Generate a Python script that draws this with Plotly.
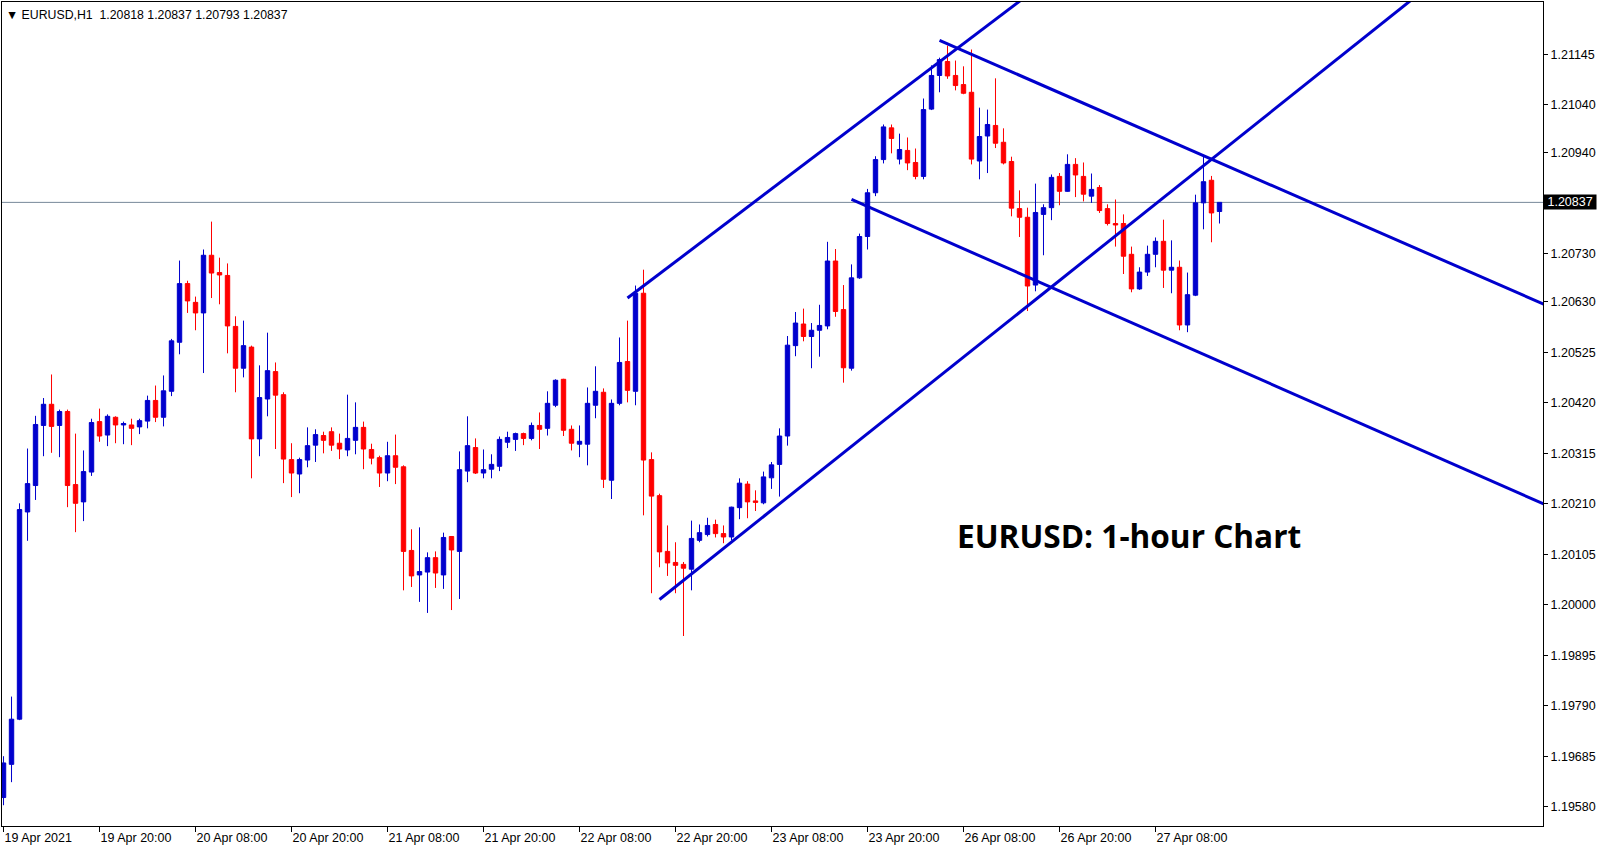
import plotly.graph_objects as go

# ---------------- data (EURUSD H1) ----------------
bar_index = list(range(153))
open_ = [1.19599,1.19668,1.19762,1.20193,1.20248,1.20373,1.20417,1.20373,1.20402,1.20250,
         1.20214,1.20276,1.20381,1.20353,1.20390,1.20374,1.20374,1.20370,1.20382,1.20425,
         1.20390,1.20444,1.20546,1.20668,1.20629,1.20607,1.20727,1.20691,1.20685,1.20579,
         1.20492,1.20536,1.20345,1.20428,1.20485,1.20437,1.20302,1.20272,1.20301,1.20332,
         1.20352,1.20360,1.20336,1.20322,1.20342,1.20369,1.20323,1.20306,1.20274,1.20310,
         1.20287,1.20113,1.20062,1.20068,1.20098,1.20062,1.20142,1.20111,1.20278,1.20327,
         1.20274,1.20282,1.20288,1.20338,1.20344,1.20356,1.20346,1.20373,1.20367,1.20415,
         1.20469,1.20365,1.20334,1.20334,1.20415,1.20442,1.20259,1.20419,1.20506,1.20444,
         1.20648,1.20302,1.20227,1.20111,1.20088,1.20084,1.20074,1.20134,1.20146,1.20167,
         1.20148,1.20141,1.20202,1.20251,1.20216,1.20212,1.20264,1.20292,1.20351,1.20539,
         1.20584,1.20558,1.20571,1.20580,1.20715,1.20614,1.20492,1.20680,1.20766,1.20857,
         1.20926,1.20992,1.20927,1.20945,1.20920,1.20891,1.21031,1.21101,1.21130,1.21101,
         1.21082,1.21066,1.20923,1.20975,1.20997,1.20962,1.20922,1.20824,1.20806,1.20665,
         1.20812,1.20826,1.20891,1.20860,1.20916,1.20891,1.20850,1.20868,1.20824,1.20793,
         1.20793,1.20729,1.20657,1.20692,1.20729,1.20756,1.20696,1.20702,1.20582,1.20644,
         1.20836,1.20883,1.20818]
high = [1.19685,1.19809,1.20211,1.20325,1.20393,1.20430,1.20479,1.20406,1.20406,1.20356,
        1.20321,1.20387,1.20408,1.20396,1.20392,1.20381,1.20387,1.20387,1.20435,1.20456,
        1.20477,1.20553,1.20716,1.20674,1.20641,1.20739,1.20797,1.20722,1.20710,1.20600,
        1.20591,1.20539,1.20498,1.20566,1.20504,1.20442,1.20336,1.20306,1.20369,1.20365,
        1.20360,1.20369,1.20356,1.20437,1.20421,1.20381,1.20335,1.20310,1.20339,1.20354,
        1.20290,1.20157,1.20161,1.20109,1.20111,1.20150,1.20142,1.20319,1.20392,1.20346,
        1.20323,1.20313,1.20350,1.20360,1.20358,1.20358,1.20379,1.20400,1.20444,1.20469,
        1.20470,1.20373,1.20373,1.20452,1.20496,1.20450,1.20427,1.20556,1.20591,1.20664,
        1.20697,1.20317,1.20231,1.20165,1.20130,1.20089,1.20175,1.20167,1.20181,1.20177,
        1.20165,1.20204,1.20263,1.20257,1.20238,1.20277,1.20297,1.20367,1.20559,1.20609,
        1.20616,1.20586,1.20624,1.20755,1.20740,1.20665,1.20708,1.20772,1.20865,1.20933,
        1.20999,1.20999,1.20980,1.20972,1.20949,1.21053,1.21122,1.21138,1.21163,1.21132,
        1.21120,1.21155,1.21034,1.21030,1.21095,1.20991,1.20932,1.20862,1.20826,1.20876,
        1.20833,1.20895,1.20898,1.20937,1.20929,1.20920,1.20897,1.20873,1.20833,1.20843,
        1.20812,1.20745,1.20702,1.20747,1.20764,1.20801,1.20758,1.20716,1.20691,1.20853,
        1.20934,1.20892,1.20837]
low = [1.19583,1.19631,1.19760,1.20133,1.20218,1.20309,1.20316,1.20307,1.20203,1.20151,
       1.20174,1.20268,1.20339,1.20330,1.20336,1.20334,1.20332,1.20355,1.20367,1.20380,
       1.20371,1.20434,1.20521,1.20607,1.20571,1.20482,1.20638,1.20625,1.20523,1.20442,
       1.20473,1.20263,1.20309,1.20392,1.20324,1.20253,1.20224,1.20232,1.20286,1.20297,
       1.20315,1.20320,1.20303,1.20309,1.20313,1.20282,1.20292,1.20245,1.20257,1.20251,
       1.20030,1.20037,1.20006,1.19983,1.20035,1.20033,1.19989,1.20012,1.20255,1.20272,
       1.20263,1.20263,1.20278,1.20326,1.20320,1.20332,1.20342,1.20324,1.20352,1.20411,
       1.20351,1.20321,1.20307,1.20290,1.20388,1.20243,1.20220,1.20415,1.20421,1.20415,
       1.20186,1.20024,1.20078,1.20060,1.20024,1.19935,1.20030,1.20130,1.20142,1.20140,
       1.20128,1.20134,1.20178,1.20180,1.20195,1.20209,1.20241,1.20225,1.20331,1.20517,
       1.20548,1.20492,1.20516,1.20573,1.20599,1.20462,1.20487,1.20678,1.20739,1.20850,
       1.20918,1.20939,1.20916,1.20904,1.20885,1.20885,1.21029,1.21066,1.21094,1.21070,
       1.21062,1.20916,1.20885,1.20898,1.20950,1.20916,1.20808,1.20765,1.20611,1.20652,
       1.20727,1.20800,1.20831,1.20859,1.20848,1.20839,1.20836,1.20815,1.20789,1.20745,
       1.20688,1.20650,1.20655,1.20684,1.20702,1.20659,1.20648,1.20571,1.20567,1.20642,
       1.20781,1.20754,1.20793]
close = [1.19671,1.19762,1.20198,1.20252,1.20375,1.20417,1.20371,1.20402,1.20248,1.20211,
         1.20277,1.20379,1.20351,1.20392,1.20374,1.20377,1.20367,1.20383,1.20425,1.20390,
         1.20445,1.20549,1.20668,1.20632,1.20607,1.20727,1.20690,1.20686,1.20580,1.20492,
         1.20539,1.20345,1.20431,1.20487,1.20436,1.20303,1.20274,1.20302,1.20331,1.20354,
         1.20342,1.20332,1.20324,1.20346,1.20369,1.20324,1.20305,1.20274,1.20310,1.20286,
         1.20111,1.20060,1.20069,1.20098,1.20066,1.20140,1.20114,1.20281,1.20331,1.20274,
         1.20281,1.20292,1.20344,1.20348,1.20356,1.20346,1.20373,1.20365,1.20419,1.20467,
         1.20363,1.20336,1.20340,1.20419,1.20444,1.20261,1.20419,1.20504,1.20446,1.20648,
         1.20301,1.20226,1.20110,1.20087,1.20082,1.20076,1.20138,1.20150,1.20165,1.20148,
         1.20141,1.20203,1.20253,1.20214,1.20213,1.20266,1.20291,1.20351,1.20540,1.20586,
         1.20558,1.20571,1.20581,1.20715,1.20610,1.20493,1.20680,1.20766,1.20857,1.20926,
         1.20994,1.20970,1.20947,1.20919,1.20891,1.21030,1.21101,1.21134,1.21100,1.21080,
         1.21064,1.20927,1.20974,1.20999,1.20960,1.20919,1.20825,1.20806,1.20663,1.20816,
         1.20826,1.20889,1.20860,1.20916,1.20894,1.20854,1.20864,1.20820,1.20793,1.20790,
         1.20725,1.20657,1.20692,1.20729,1.20756,1.20696,1.20702,1.20582,1.20645,1.20836,
         1.20880,1.20815,1.20837]

time_tick_index = [0, 12, 24, 36, 48, 60, 72, 84, 96, 108, 120, 132, 144]
time_tick_labels = ["19 Apr 2021", "19 Apr 20:00", "20 Apr 08:00", "20 Apr 20:00",
                    "21 Apr 08:00", "21 Apr 20:00", "22 Apr 08:00", "22 Apr 20:00",
                    "23 Apr 08:00", "23 Apr 20:00", "26 Apr 08:00", "26 Apr 20:00",
                    "27 Apr 08:00"]
price_ticks = [1.21145, 1.21040, 1.20940, 1.20730, 1.20630, 1.20525, 1.20420,
               1.20315, 1.20210, 1.20105, 1.20000, 1.19895, 1.19790, 1.19685, 1.19580]

# hand-drawn trend lines (bar index, price)
trend_up_upper_x = [78, 140]
trend_up_upper_y = [1.20638, 1.21419]
trend_up_lower_x = [82, 190]
trend_up_lower_y = [1.20011, 1.21444]
trend_dn_upper_x = [117, 200]
trend_dn_upper_y = [1.21174, 1.20571]
trend_dn_lower_x = [106, 200]
trend_dn_lower_y = [1.20843, 1.20155]

symbol = "EURUSD,H1"
chart_title = "EURUSD: 1-hour Chart"

# ---------------- styling ----------------
BLUE = "#0000CD"
RED = "#FF0000"
FONT = "Liberation Sans"

fig = go.Figure()

fig.add_trace(go.Candlestick(
    x=bar_index, open=open_, high=high, low=low, close=close,
    increasing=dict(line=dict(color=BLUE, width=1), fillcolor=BLUE),
    decreasing=dict(line=dict(color=RED, width=1), fillcolor=RED),
    whiskerwidth=0, showlegend=False, hoverinfo="skip",
))

for xs, ys in [(trend_up_upper_x, trend_up_upper_y), (trend_up_lower_x, trend_up_lower_y),
               (trend_dn_upper_x, trend_dn_upper_y), (trend_dn_lower_x, trend_dn_lower_y)]:
    fig.add_trace(go.Scatter(x=xs, y=ys, mode="lines",
                             line=dict(color=BLUE, width=3),
                             showlegend=False, hoverinfo="skip"))

last_close = close[-1]
fig.add_shape(type="line", xref="paper", x0=0, x1=1, yref="y",
              y0=last_close, y1=last_close,
              line=dict(color="#778899", width=1), layer="below")

W, H = 1607, 850
ML, MR, MT, MB = 2, 64, 2, 24

fig.update_layout(
    width=W, height=H,
    margin=dict(l=ML, r=MR, t=MT, b=MB, pad=0),
    paper_bgcolor="white", plot_bgcolor="white",
    boxgap=0.45, boxgroupgap=0,
    showlegend=False,
    font=dict(family=FONT, size=12.5, color="black"),
    xaxis=dict(
        range=[-0.19, 192.44], rangeslider=dict(visible=False),
        showgrid=False, zeroline=False,
        showline=True, linecolor="black", linewidth=1, mirror=True,
        tickmode="array", tickvals=time_tick_index, ticktext=time_tick_labels,
        ticks="outside", ticklen=5, tickcolor="black", tickwidth=1,
        ticklabelposition="outside right",
        tickfont=dict(family=FONT, size=12.5, color="black"),
        fixedrange=True,
    ),
    yaxis=dict(
        range=[1.195398, 1.212538], side="right",
        showgrid=False, zeroline=False,
        showline=True, linecolor="black", linewidth=1, mirror=True,
        tickmode="array", tickvals=price_ticks,
        ticktext=[f"{v:.5f}" for v in price_ticks],
        ticks="outside", ticklen=4, tickcolor="black", tickwidth=1,
        tickfont=dict(family=FONT, size=12.5, color="black"),
        fixedrange=True,
    ),
)

header = "\u25BC\u00a0" + symbol + "\u00a0\u00a0" + " ".join(
    f"{v:.5f}" for v in (open_[-1], high[-1], low[-1], close[-1]))
fig.add_annotation(xref="paper", yref="paper", x=0, y=1, xanchor="left", yanchor="top",
                   xshift=2, yshift=-4, showarrow=False, text=header,
                   font=dict(family=FONT, size=12.3, color="black"))

fig.add_annotation(xref="paper", yref="y", x=1, y=last_close, xanchor="left", yanchor="middle",
                   xshift=0, showarrow=False, text="\u00a0" + f"{last_close:.5f}" + "\u00a0",
                   bgcolor="black", borderpad=0,
                   font=dict(family=FONT, size=12.5, color="white"))

fig.add_annotation(xref="paper", yref="paper", x=0.7313, y=0.352, xanchor="center",
                   yanchor="middle", showarrow=False, text=f"<b>{chart_title}</b>",
                   font=dict(family="Open Sans", size=31.6, color="black"))

fig.write_html("out.html", config={"displayModeBar": False},
               post_script="document.body.style.margin='0';")
